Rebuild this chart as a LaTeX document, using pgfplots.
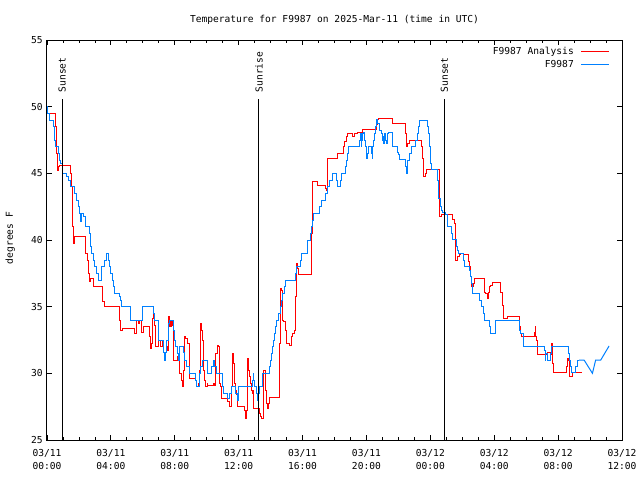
\documentclass[border=0pt]{standalone}
\usepackage{fontspec}
\setmainfont{DejaVu Sans Mono}
\setmonofont{DejaVu Sans Mono}
\usepackage{pgfplots}
\pgfplotsset{compat=1.18}
\definecolor{gred}{RGB}{255,0,0}
\definecolor{gblue}{RGB}{0,128,255}

\pgfplotstableread{
h T
0 49.5
0.56 48.5
0.6 46.5
0.65 45.25
0.73 45.5
0.77 45.6
1.48 45
1.54 44
1.58 41
1.65 39.75
1.75 40.25
2.44 39
2.54 38.5
2.6 37.5
2.65 36.9
2.73 37.1
2.9 36.5
3.46 35.4
3.58 35
4.56 34
4.63 33.25
4.73 33.4
5.5 33
5.6 34
5.7 33.75
5.8 34
5.9 33.1
6.06 33.5
6.4 32.75
6.48 31.9
6.54 32.25
6.58 34.1
6.65 34.4
6.71 33.6
6.79 32
6.96 32.5
7.1 32
7.21 32.5
7.27 31.6
7.48 32
7.54 31.75
7.58 34.25
7.65 33.5
7.69 34
7.75 33.5
7.79 34
7.85 33.6
7.9 32.25
7.94 31
8.15 31.25
8.21 31
8.27 30.5
8.31 30
8.42 29.5
8.48 29.05
8.52 30.25
8.58 32.75
8.69 32.6
8.77 32.25
8.9 31
8.94 29.6
9.31 29.5
9.35 29.05
9.46 29.25
9.52 29
9.56 30.25
9.6 33.75
9.67 33.25
9.73 32.5
9.77 31.25
9.81 30.25
9.875 29.5
9.94 29
10.04 29.25
10.08 29.1
10.4 29.25
10.5 29.1
10.56 31.5
10.65 32.1
10.71 32
10.77 30.5
10.81 29.25
10.875 29
10.92 28.1
11.33 27.9
11.4 27.6
11.44 27.5
11.54 29
11.6 31.5
11.65 30.75
11.71 30.25
11.75 29.25
11.81 28.75
11.85 28.4
11.92 27.5
12.375 27.25
12.44 26.6
12.52 27.25
12.54 29
12.58 31.1
12.625 30.25
12.69 29.75
12.75 29.25
12.79 28.75
12.85 28.5
12.9 28.75
12.96 27.4
13.31 27
13.375 26.75
13.46 26.6
13.54 27.25
13.58 30.25
13.65 30.1
13.69 28.75
13.75 27.75
13.81 27.4
13.875 27.75
13.94 28.2
14.56 32.25
14.6 36.4
14.67 36.25
14.73 34.75
14.77 34
14.83 33.9
14.92 33.25
14.98 32.25
15.19 32.1
15.29 32.75
15.4 33
15.5 33.25
15.54 35.75
15.6 38.25
15.67 38.1
15.71 37.9
15.77 37.45
16.58 40.5
16.6 44.4
16.96 44.1
17.44 43.9
17.52 43.75
17.56 46.1
18.21 46.5
18.56 47
18.625 47.4
18.73 47.75
18.79 48
19.1 47.75
19.25 48
19.46 48.1
19.73 48.3
20.6 48.7
20.67 49.05
20.77 49.1
21.6 48.75
22.44 48
22.52 47.05
22.58 47.25
22.69 47.45
23.42 47
23.52 46.1
23.58 44.8
23.69 45
23.77 45.3
24.56 43.5
24.6 41.8
24.73 41.95
25.4 41.55
25.5 41.25
25.56 40
25.6 38.5
25.71 38.75
25.81 38.9
25.875 39
26.08 38.9
26.4 38.4
26.48 38
26.54 37.25
26.6 36.5
26.69 36.75
26.75 37.1
27.4 36.1
27.48 36
27.58 35.6
27.65 36.1
27.73 36.5
27.79 36.6
27.9 36.8
28.375 36.5
28.42 36.05
28.52 35.1
28.56 34.1
28.85 34.3
29.56 33.5
29.67 33
29.73 32.75
30.5 33.1
30.56 33.55
30.6 32.75
30.65 32.5
30.71 31.45
31.33 31.6
31.54 31.45
31.58 32.25
31.625 31.5
31.65 30.75
31.71 30.1
32.54 30.5
32.58 31.1
32.65 31
32.69 30.25
32.73 29.75
32.9 30.1
33.48 30.1
}\redtable

\pgfplotstableread{
h T
0 50
0.06 49.5
0.15 49
0.4 48.5
0.5 47.5
0.56 47
0.7 46.5
0.77 46
0.875 45.75
0.98 45
1.23 44.75
1.33 44.5
1.48 44
1.71 43.5
1.85 43
1.96 42.5
2.02 42
2.1 41.4
2.19 42
2.27 41.75
2.38 41
2.65 40.5
2.72 39.5
2.79 39
2.9 38.5
3.0 38
3.1 37.5
3.23 37
3.4 38
3.6 38.5
3.73 39
3.83 38.5
3.92 38
4.0 37.5
4.1 37
4.19 36.5
4.25 36
4.52 35.75
4.6 35.5
4.67 35
5.2 34
6.0 35
6.65 34.5
6.71 34
7.0 32.5
7.27 31.6
7.33 31
7.4 31.6
7.48 32.5
7.58 33.75
7.65 34
7.9 33.25
7.96 32.5
8.06 32
8.15 31.5
8.23 31
8.31 32
8.52 31.6
8.625 31
8.73 30.5
8.9 30
9.31 29.5
9.35 29.05
9.56 30
9.625 30.5
9.71 31
10.04 30.5
10.08 30
10.33 30.5
10.4 31
10.5 30.5
10.6 30
10.98 29.05
11.06 28.5
11.33 28.1
11.44 28.5
11.54 29.05
11.79 28.5
11.9 28
11.96 28.5
12.02 29.05
12.85 29.5
12.9 30
12.96 29.5
13.0 29
13.1 28.5
13.17 28.25
13.21 28
13.27 28.5
13.31 29.05
13.52 30
13.9 30.5
14.0 31
14.06 31.5
14.12 32
14.21 32.5
14.27 33
14.31 33.5
14.35 34
14.52 34.5
14.6 35
14.67 35.5
14.77 36
14.875 36.5
14.94 37
15.56 37.5
15.6 38
15.875 38.5
15.96 39
16.29 39.5
16.33 40
16.48 40.5
16.54 41
16.65 41.5
16.69 42
17.06 42.5
17.17 43
17.44 43.5
17.58 44
17.69 44.5
17.85 45
18.15 44.5
18.17 44.05
18.375 44.5
18.42 45
18.69 45.5
18.73 46
18.79 46.5
18.9 47
19.56 47.5
19.625 48
19.67 47
19.71 47.5
19.77 48
19.81 48.1
19.875 47.5
19.92 47
19.98 46.5
20.02 46.1
20.08 46.5
20.15 47
20.29 46.5
20.35 46.1
20.4 47
20.44 47.5
20.5 48
20.56 48.5
20.6 48.75
20.65 49.05
20.71 48.75
20.81 48.25
20.92 48
20.98 47.5
21.02 47.75
21.06 47.25
21.125 48
21.19 47.5
21.23 47.25
21.29 47.5
21.33 48
21.375 48.1
21.6 47.5
21.65 47.05
21.92 46.6
22.0 46.4
22.06 46.05
22.44 45.5
22.52 45
22.58 46
22.69 46.5
22.79 47
23.06 47.5
23.17 48
23.25 48.5
23.31 49
23.83 48.5
23.875 48
23.94 47
24.0 46.25
24.04 45.75
24.08 45.3
24.46 44.5
24.5 43.75
24.54 43.1
24.625 42.5
24.73 42.25
24.79 42.05
24.98 41.9
25.08 41.05
25.35 40.5
25.4 40.05
25.65 39.5
25.71 39.25
25.77 39
26.08 38.5
26.125 38.05
26.44 37.75
26.5 37.25
26.58 36.75
26.65 36
27.1 35.5
27.19 35.05
27.33 34.5
27.4 34
27.73 33.5
27.79 33
28.1 34
29.56 33.25
29.625 33
29.81 32.5
29.85 32.05
31.15 31.75
31.19 31
31.23 31.5
31.35 31
31.5 31.5
31.56 32.05
32.65 31.5
32.69 31
32.75 30.5
32.81 30.05
33.1 30.5
33.21 31
33.31 31
}\bluetable

\pgfplotstableread{
h T
33.31 31
33.625 31
34.15 30
34.35 31
34.67 31
35.19 32.05
}\bluetail

\begin{document}
\fontsize{9.6}{13}\selectfont
\begin{tikzpicture}
\begin{axis}[
  name=ax,
  at={(0pt,0pt)}, anchor=south west,
  width=575pt, height=400pt, scale only axis,
  xmin=0, xmax=36, ymin=25, ymax=55,
  xtick={0,4,...,36},
  minor x tick num=3,
  ytick={25,30,...,55},
  xticklabels={{03/11\\00:00},{03/11\\04:00},{03/11\\08:00},{03/11\\12:00},{03/11\\16:00},{03/11\\20:00},{03/12\\00:00},{03/12\\04:00},{03/12\\08:00},{03/12\\12:00}},
  xticklabel style={align=center, yshift=-6pt},
  yticklabel style={xshift=-1pt},
  /pgf/number format/assume math mode=true,
  tick align=inside,
  major tick length=5pt, minor tick length=3pt,
  tick style={black, line width=0.8pt},
  axis line style={black, line width=1pt},
  title={Temperature for F9987 on 2025-Mar-11 (time in UTC)},
  title style={yshift=6pt},
  ylabel={degrees F},
  ylabel style={at={(axis description cs:-0.064,0.505)}, anchor=center},
]
\addplot[const plot, color=gred, line width=1pt] table[x=h, y=T] {\redtable};
\addplot[const plot, color=gblue, line width=1pt] table[x=h, y=T] {\bluetable};
\addplot[color=gblue, line width=1pt] table[x=h, y=T] {\bluetail};
\addplot[black, line width=1pt] coordinates {(0.94,25) (0.94,50.6)};
\addplot[black, line width=1pt] coordinates {(13.27,25) (13.27,50.6)};
\addplot[black, line width=1pt] coordinates {(24.88,25) (24.88,50.6)};
\node[rotate=90, anchor=west, inner sep=1pt] at (axis cs:0.94,51.0) {Sunset};
\node[rotate=90, anchor=west, inner sep=1pt] at (axis cs:13.27,51.0) {Sunrise};
\node[rotate=90, anchor=west, inner sep=1pt] at (axis cs:24.88,51.0) {Sunset};
% legend (gnuplot style: text, then sample line)
\node[anchor=east, inner sep=0pt] at (rel axis cs:0.9165,0.9705) {F9987 Analysis};
\draw[gred, line width=1pt] (rel axis cs:0.9287,0.9705) -- (rel axis cs:0.9774,0.9705);
\node[anchor=east, inner sep=0pt] at (rel axis cs:0.9165,0.939) {F9987};
\draw[gblue, line width=1pt] (rel axis cs:0.9287,0.939) -- (rel axis cs:0.9774,0.939);
\end{axis}
\pgfresetboundingbox
\useasboundingbox ([xshift=-47pt,yshift=-40pt]ax.south west) rectangle ([xshift=18pt,yshift=40pt]ax.north east);
\end{tikzpicture}
\end{document}
